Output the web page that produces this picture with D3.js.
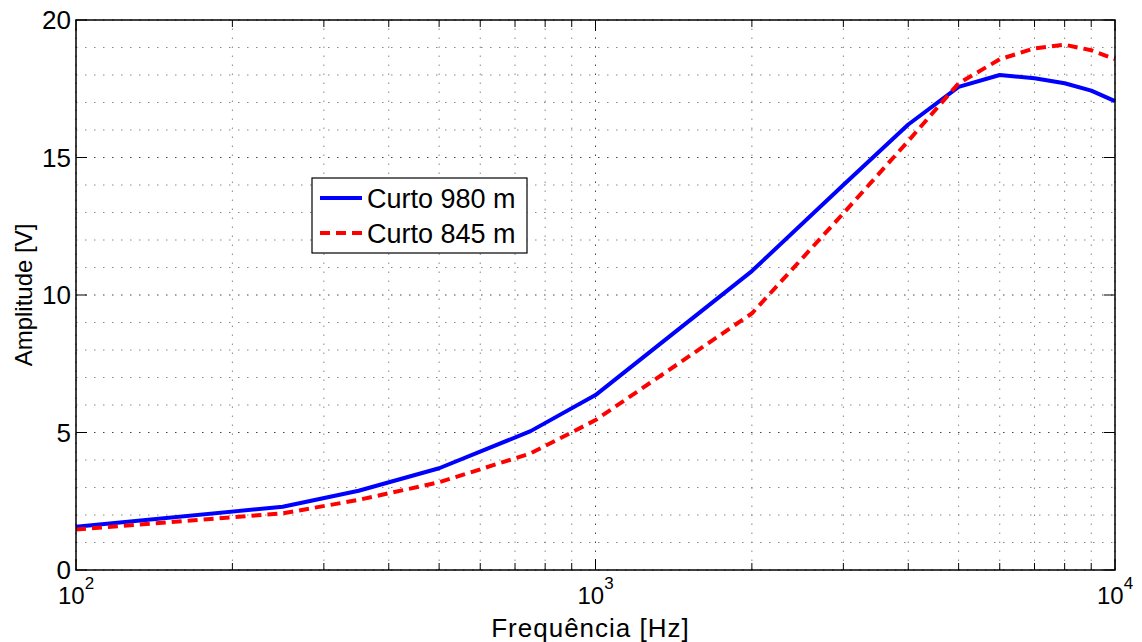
<!DOCTYPE html>
<html>
<head>
<meta charset="utf-8">
<script src="https://cdn.jsdelivr.net/npm/d3@7"></script>
<style>
  body { margin: 0; background: #fff; }
  text { font-family: "Liberation Sans", Arial, sans-serif; fill: #000; }
</style>
</head>
<body>
<div id="chart"></div>
<script>
// frequencies (Hz)
const freqs = [100, 250, 350, 500, 750, 1000, 2000, 3000, 4000, 5000, 6000, 7000, 8000, 9000, 10000];
// amplitude (V)
const curto980 = [1.57, 2.30, 2.88, 3.70, 5.05, 6.36, 10.87, 14.0, 16.2, 17.57, 18.0, 17.88, 17.7, 17.43, 17.05];
const curto845 = [1.47, 2.06, 2.55, 3.19, 4.24, 5.45, 9.33, 12.97, 15.6, 17.7, 18.57, 18.97, 19.1, 18.9, 18.58];
const seriesNames = ['Curto 980 m', 'Curto 845 m'];
const yTicks = [0, 5, 10, 15, 20];
const xMajor = [100, 1000, 10000];

const W = 1142, H = 642;
const m = {l: 76, t: 20, r: 27, b: 72};

const svg = d3.select('#chart').append('svg')
  .attr('width', W).attr('height', H);

const x = d3.scaleLog().domain([100, 10000]).range([m.l, W - m.r]);
const y = d3.scaleLinear().domain([0, 20]).range([H - m.b, m.t]);

const xMinor = [];
for (let d = 100; d < 10000; d *= 10) {
  for (let k = 2; k <= 9; k++) xMinor.push(d * k);
}
const yMinor = d3.range(1, 20).filter(v => v % 5 !== 0);

const grid = svg.append('g');
// minor grid
grid.selectAll('.gx').data(xMinor).join('line')
  .attr('x1', d => x(d)).attr('x2', d => x(d))
  .attr('y1', y(0)).attr('y2', y(20))
  .attr('stroke', '#888').attr('stroke-width', 1).attr('stroke-dasharray', '1.5,7.5');
grid.selectAll('.gy').data(yMinor).join('line')
  .attr('y1', d => y(d)).attr('y2', d => y(d))
  .attr('x1', x(100)).attr('x2', x(10000))
  .attr('stroke', '#888').attr('stroke-width', 1).attr('stroke-dasharray', '1.5,7.5');
// major grid
grid.selectAll('.gX').data(xMajor).join('line')
  .attr('x1', d => x(d)).attr('x2', d => x(d))
  .attr('y1', y(0)).attr('y2', y(20))
  .attr('stroke', '#444').attr('stroke-width', 1).attr('stroke-dasharray', '1.5,7.5');
grid.selectAll('.gY').data(yTicks).join('line')
  .attr('y1', d => y(d)).attr('y2', d => y(d))
  .attr('x1', x(100)).attr('x2', x(10000))
  .attr('stroke', '#444').attr('stroke-width', 1).attr('stroke-dasharray', '1.5,7.5');

// lines
const line = d3.line().x(d => x(d[0])).y(d => y(d[1]));
svg.append('path')
  .datum(freqs.map((f, i) => [f, curto980[i]]))
  .attr('d', line).attr('fill', 'none')
  .attr('stroke', '#0000ff').attr('stroke-width', 4).attr('stroke-linejoin', 'round');
svg.append('path')
  .datum(freqs.map((f, i) => [f, curto845[i]]))
  .attr('d', line).attr('fill', 'none')
  .attr('stroke', '#ff0000').attr('stroke-width', 4).attr('stroke-dasharray', '10,6');

// ticks (inside, on all four sides)
const tk = svg.append('g').attr('stroke', '#000').attr('stroke-width', 1);
const allX = xMinor.concat(xMajor);
tk.selectAll('.tb').data(allX).join('line')
  .attr('x1', d => x(d)).attr('x2', d => x(d))
  .attr('y1', y(0)).attr('y2', d => y(0) - (xMajor.includes(d) ? 11 : 7));
tk.selectAll('.tt').data(allX).join('line')
  .attr('x1', d => x(d)).attr('x2', d => x(d))
  .attr('y1', y(20)).attr('y2', d => y(20) + (xMajor.includes(d) ? 11 : 7));
tk.selectAll('.tl').data(yTicks).join('line')
  .attr('x1', x(100)).attr('x2', x(100) + 11)
  .attr('y1', d => y(d)).attr('y2', d => y(d));
tk.selectAll('.tr').data(yTicks).join('line')
  .attr('x1', x(10000)).attr('x2', x(10000) - 11)
  .attr('y1', d => y(d)).attr('y2', d => y(d));

// frame
svg.append('rect')
  .attr('x', x(100)).attr('y', y(20))
  .attr('width', x(10000) - x(100)).attr('height', y(0) - y(20))
  .attr('fill', 'none').attr('stroke', '#000').attr('stroke-width', 1.5);

// y tick labels
svg.selectAll('.yl').data(yTicks).join('text')
  .attr('x', x(100) - 5).attr('y', d => y(d) + 9)
  .attr('text-anchor', 'end').attr('font-size', 26)
  .text(d => d);

// x tick labels 10^n
const xl = svg.selectAll('.xl').data(xMajor).join('text')
  .attr('x', d => x(d) - 18).attr('y', 604)
  .attr('font-size', 24);
xl.append('tspan').text('10');
xl.append('tspan').attr('dy', -15).attr('font-size', 17).text(d => Math.round(Math.log10(d)));

// axis labels
svg.append('text')
  .attr('x', (x(100) + x(10000)) / 2 - 5).attr('y', 637)
  .attr('text-anchor', 'middle').attr('font-size', 26)
  .attr('letter-spacing', 1)
  .text('Frequência [Hz]');
svg.append('text')
  .attr('transform', `translate(32,${(y(0) + y(20)) / 2}) rotate(-90)`)
  .attr('text-anchor', 'middle').attr('font-size', 24)
  .text('Amplitude [V]');

// legend
const lg = svg.append('g').attr('transform', 'translate(312,178)');
lg.append('rect').attr('width', 215).attr('height', 75)
  .attr('fill', '#fff').attr('stroke', '#000').attr('stroke-width', 1.2);
const lgItems = [
  {name: seriesNames[0], color: '#0000ff', dash: null},
  {name: seriesNames[1], color: '#ff0000', dash: '10,6'}
];
const li = lg.selectAll('.li').data(lgItems).join('g')
  .attr('transform', (d, i) => `translate(0,${20 + i * 35})`);
li.append('line')
  .attr('x1', 8).attr('x2', 50).attr('y1', 0).attr('y2', 0)
  .attr('stroke', d => d.color).attr('stroke-width', 4)
  .attr('stroke-dasharray', d => d.dash);
li.append('text')
  .attr('x', 55).attr('y', 10).attr('font-size', 27)
  .text(d => d.name);
</script>
</body>
</html>
